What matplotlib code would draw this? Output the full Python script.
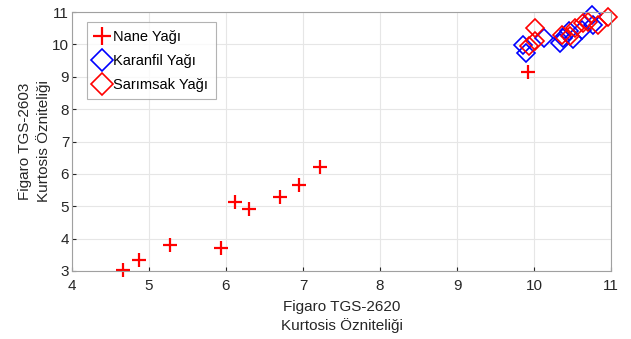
import matplotlib
matplotlib.use('Agg')
import matplotlib.pyplot as plt

plt.rcParams['font.family'] = ['Liberation Sans', 'DejaVu Sans']

# Nane Yağı
nane_x = [4.66, 4.87, 5.27, 5.94, 6.12, 6.30, 6.70, 6.95, 7.22, 9.92]
nane_y = [3.02, 3.34, 3.80, 3.72, 5.12, 4.90, 5.30, 5.65, 6.22, 9.15]
# Karanfil Yağı
karanfil_x = [9.86, 9.90, 10.13, 10.34, 10.38, 10.45, 10.50, 10.75, 10.77, 10.62]
karanfil_y = [9.99, 9.74, 10.20, 10.04, 10.20, 10.40, 10.18, 10.91, 10.60, 10.45]
# Sarımsak Yağı
sarimsak_x = [10.01, 9.93, 10.01, 10.36, 10.47, 10.53, 10.64, 10.70, 10.83, 10.96]
sarimsak_y = [10.50, 9.94, 10.10, 10.30, 10.25, 10.50, 10.65, 10.70, 10.60, 10.86]

fig = plt.figure(figsize=(6.31, 3.39), dpi=100)
# eksen kutusu: sol 72px, sag 611px, ust 12px, alt 271px
ax = fig.add_axes([72 / 631, 68 / 339, 539 / 631, 259 / 339])

ax.plot(nane_x, nane_y, '+', color='#ff0000', ms=10, mew=1.6, label='Nane Yağı', clip_on=False)
ax.plot(karanfil_x, karanfil_y, 'D', mfc='none', mec='#0000ff', ms=9, mew=1.2,
        label='Karanfil Yağı', clip_on=False)
ax.plot(sarimsak_x, sarimsak_y, 'D', mfc='none', mec='#ff0000', ms=9, mew=1.2,
        label='Sarımsak Yağı', clip_on=False)

ax.set_xlim(4, 11)
ax.set_ylim(3, 11)
ax.set_xticks(range(4, 12))
ax.set_yticks(range(3, 12))
ax.grid(True, color='#e6e6e6', linewidth=0.8)
ax.set_axisbelow(True)
ax.tick_params(direction='in', labelsize=11, colors='#262626', length=3)
ax.tick_params(axis='x', pad=6)
ax.tick_params(axis='y', pad=2)
for s in ax.spines.values():
    s.set_color('#a0a0a0')
    s.set_linewidth(0.8)

ax.set_xlabel('Figaro TGS-2620\nKurtosis Özniteliği', fontsize=11, color='#262626',
              linespacing=1.3, labelpad=5)
ax.set_ylabel('Figaro TGS-2603\nKurtosis Özniteliği', fontsize=11, color='#262626',
              linespacing=1.3)
ax.yaxis.set_label_coords(-0.039, 0.5)

leg = ax.legend(loc='upper left', bbox_to_anchor=(0.028, 0.96), fontsize=10.5, frameon=True,
                fancybox=False, edgecolor='#a0a0a0', handlelength=1.1, handletextpad=0.2,
                borderpad=0.5, labelspacing=0.7, borderaxespad=0, markerscale=1.3)
leg.get_frame().set_linewidth(0.8)

fig.savefig('out.png', dpi=100)
